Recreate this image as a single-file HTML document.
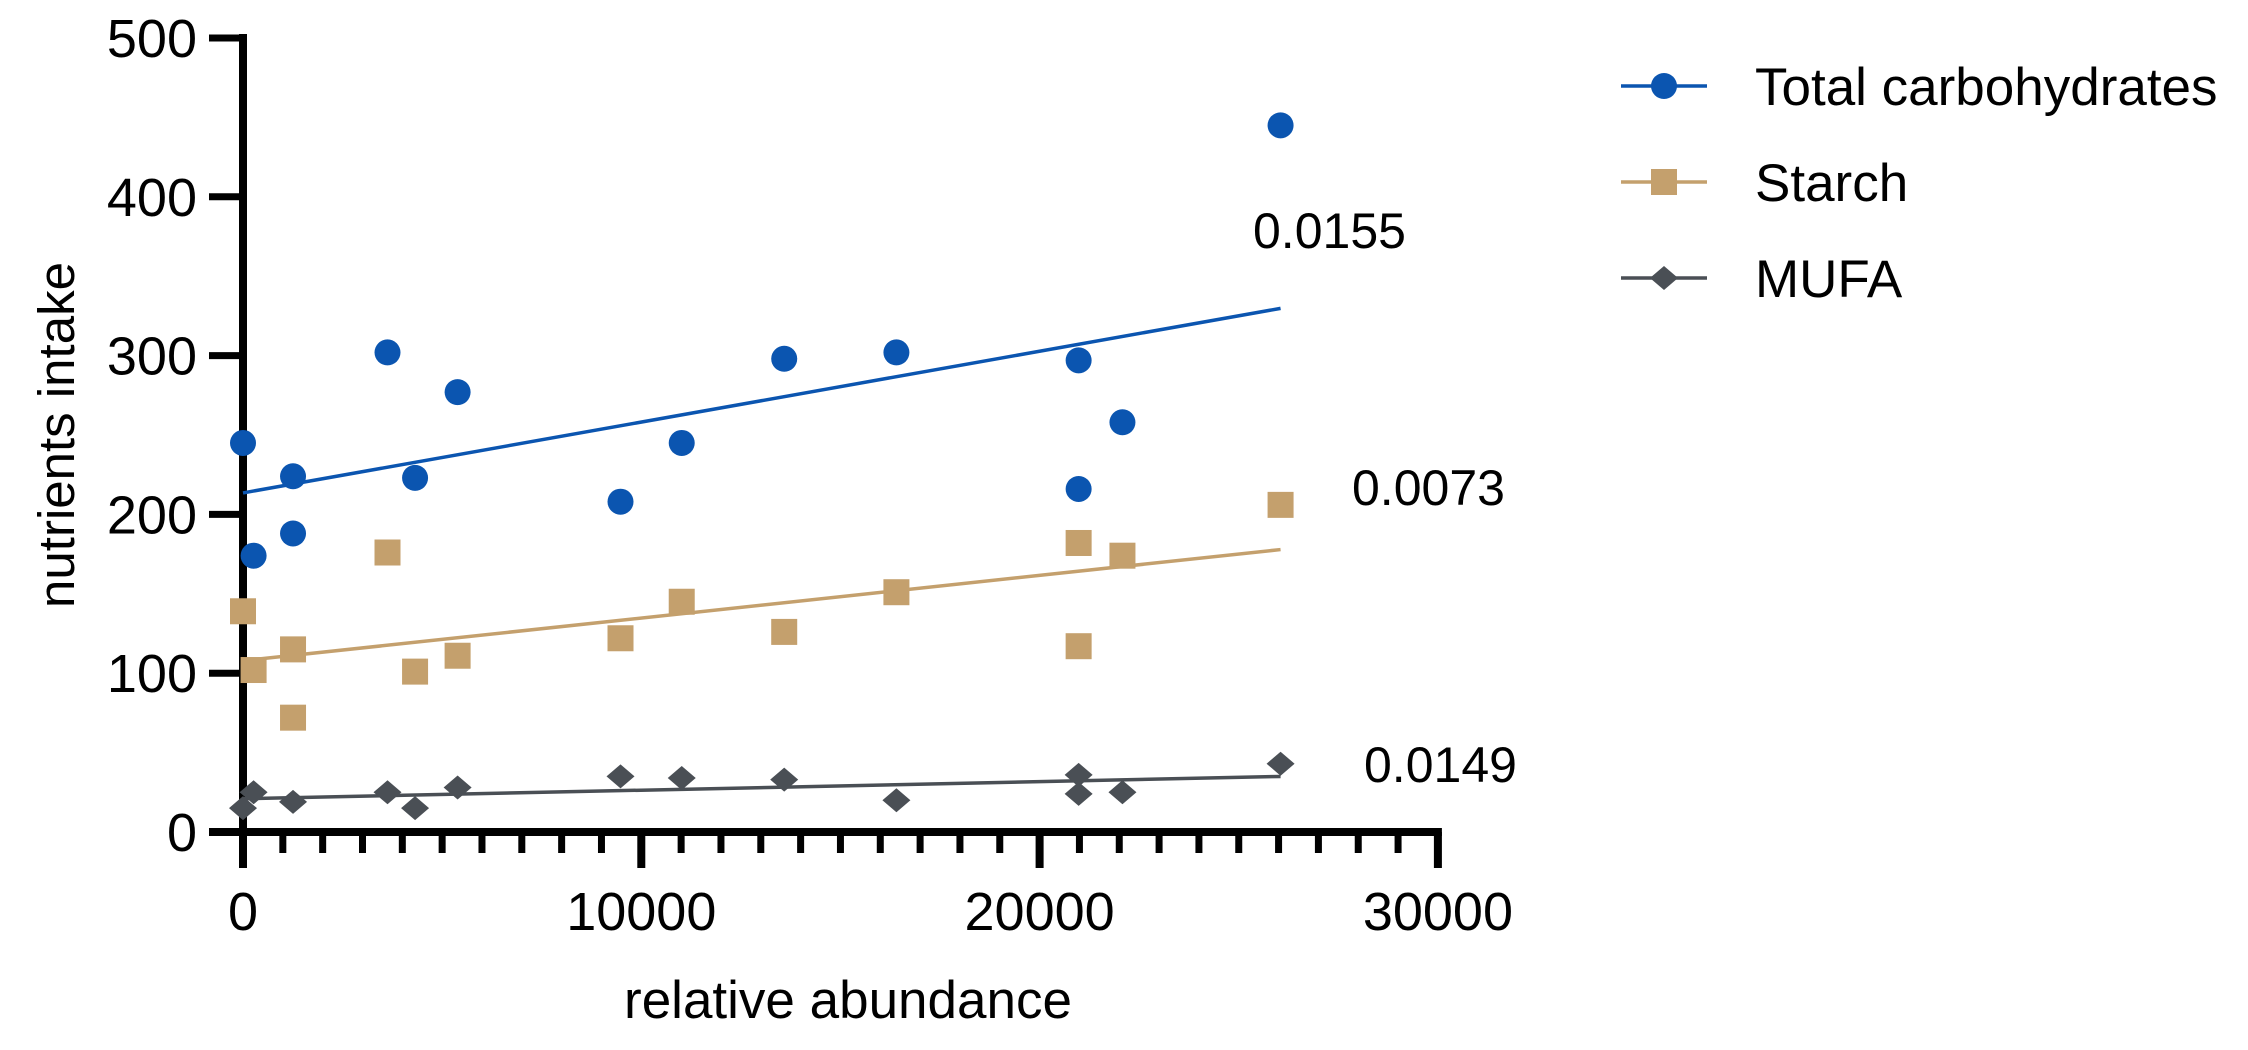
<!DOCTYPE html>
<html><head><meta charset="utf-8"><style>
html,body{margin:0;padding:0;background:#fff;}
svg{display:block;font-family:"Liberation Sans",Arial,sans-serif;}
</style></head><body>
<svg id="chart" width="2248" height="1050" viewBox="0 0 2248 1050">
<g id="axes"></g>
<g id="marks"></g>
<text x="848" y="1018" font-size="53" text-anchor="middle">relative abundance</text>
<text transform="translate(74,435) rotate(-90)" font-size="51" text-anchor="middle">nutrients intake</text>
<g id="legend"></g>
</svg>
<script>
const xTicks = [0, 10000, 20000, 30000];
const yTicks = [0, 100, 200, 300, 400, 500];
const seriesNames = ["Total carbohydrates", "Starch", "MUFA"];
const pLabels = ["0.0155", "0.0073", "0.0149"];
const carbX = [0, 266, 1256, 1256, 3628, 4320, 5388, 9478, 11015, 13588, 16405, 20980, 22080, 20980, 26050];
const carbY = [245, 174, 224, 188, 302, 223, 277, 208, 245, 298, 302, 297, 258, 216, 445];
const starchX = [0, 266, 1256, 1256, 3628, 4320, 5388, 9478, 11015, 13588, 16405, 20980, 22080, 20980, 26050];
const starchY = [139, 102, 115, 72, 176, 101, 111, 122, 145, 126, 151, 182, 174, 117, 206];
const mufaX = [0, 266, 1256, 3628, 4320, 5388, 9478, 11015, 13588, 16405, 20980, 20980, 22080, 26050];
const mufaY = [15, 25, 19, 25, 15, 28, 35, 34, 33, 20, 36, 24, 25, 43];

const NS = "http://www.w3.org/2000/svg";
const X0 = 243, XS = 398.3 / 10000, Y0 = 832, YS = 158.8 / 100;
function sx(v) { return X0 + v * XS; }
function sy(v) { return Y0 - v * YS; }
function mk(tag, attrs, parent) {
  const e = document.createElementNS(NS, tag);
  for (const k in attrs) e.setAttribute(k, attrs[k]);
  parent.appendChild(e);
  return e;
}
const axes = document.getElementById("axes");
const marks = document.getElementById("marks");
const legend = document.getElementById("legend");

let yl = mk("line", {x1: X0, y1: sy(500) - 4, x2: X0, y2: Y0 + 36, stroke: "#000", "stroke-width": 8}, axes);


let xl = mk("line", {x1: X0 - 34, y1: Y0, x2: sx(30000) + 4, y2: Y0, stroke: "#000", "stroke-width": 8}, axes);



yTicks.forEach(function (t) {
  const y = sy(t);
  const tk = mk("line", {x1: X0 - 34, y1: y, x2: X0, y2: y, stroke: "#000", "stroke-width": 7}, axes);
  
  
  const lb = mk("text", {x: 197, y: y + 19, "font-size": 54, "text-anchor": "end"}, axes);
  lb.textContent = t;
  
  
});
for (let v = 1000; v < 30000; v += 1000) {
  if (v % 10000 === 0) continue;
  const m = mk("line", {x1: sx(v), y1: Y0, x2: sx(v), y2: Y0 + 21, stroke: "#000", "stroke-width": 7}, axes);
  
  
}
xTicks.forEach(function (t) {
  const x = sx(t);
  const tk = mk("line", {x1: x, y1: Y0, x2: x, y2: Y0 + 36, stroke: "#000", "stroke-width": 8}, axes);
  
  
  const lb = mk("text", {x: x, y: 930, "font-size": 54, "text-anchor": "middle"}, axes);
  lb.textContent = t;
  
  
});

function fit(xs, ys) {
  const n = xs.length;
  let mx = 0, my = 0;
  for (let i = 0; i < n; i++) { mx += xs[i]; my += ys[i]; }
  mx /= n; my /= n;
  let sxy = 0, sxx = 0;
  for (let i = 0; i < n; i++) { sxy += (xs[i] - mx) * (ys[i] - my); sxx += (xs[i] - mx) * (xs[i] - mx); }
  const b = sxy / sxx;
  return [my - b * mx, b];
}
function marker(type, cx, cy, color, parent, scale) {
  const s = scale || 1;
  if (type === 0) return mk("circle", {cx: cx, cy: cy, r: 13 * s, fill: color}, parent);
  if (type === 1) return mk("rect", {x: cx - 13 * s, y: cy - 13 * s, width: 26 * s, height: 26 * s, fill: color}, parent);
  return mk("polygon", {points: [cx, cy - 12 * s, cx + 14 * s, cy, cx, cy + 12 * s, cx - 14 * s, cy].join(" "), fill: color}, parent);
}
const colors = ["#0b55b0", "#c4a06d", "#4a4f55"];
const allX = [carbX, starchX, mufaX];
const allY = [carbY, starchY, mufaY];
const slugs = ["carbohydrates", "starch", "mufa"];
const labelPos = [[1253, 230], [1352, 487], [1364, 764]];

for (let s = 0; s < 3; s++) {
  const xs = allX[s], ys = allY[s];
  const f = fit(xs, ys);
  const xmin = Math.min.apply(null, xs), xmax = Math.max.apply(null, xs);
  const ln = mk("line", {x1: sx(xmin), y1: sy(f[0] + f[1] * xmin), x2: sx(xmax), y2: sy(f[0] + f[1] * xmax), stroke: colors[s], "stroke-width": 3.5}, marks);
  
  
  for (let i = 0; i < xs.length; i++) {
    const p = marker(s, sx(xs[i]), sy(ys[i]), colors[s], marks);
    
    
  }
  const pl = mk("text", {x: labelPos[s][0], y: labelPos[s][1] + 18, "font-size": 50}, marks);
  pl.textContent = pLabels[s];
  
  

  const ly = 86 + s * 96;
  const g = mk("g", {}, legend);
  
  
  mk("line", {x1: 1621, y1: ly, x2: 1707, y2: ly, stroke: colors[s], "stroke-width": 3.5}, g);
  marker(s, 1664, ly, colors[s], g);
  const lt = mk("text", {x: 1755, y: ly + 19, "font-size": 53}, g);
  lt.textContent = seriesNames[s];
  
  
}
</script>
</body></html>
